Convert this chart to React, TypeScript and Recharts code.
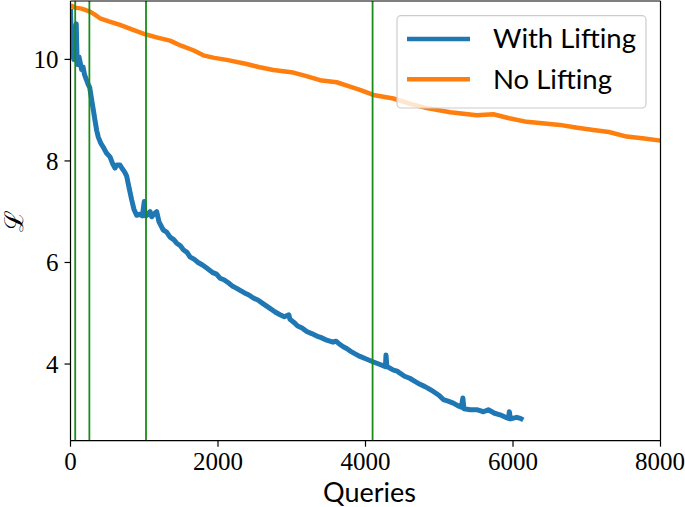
import React from 'react';
import { LineChart, Line, XAxis, YAxis, ReferenceLine } from 'recharts';

const blueQueries = [0, 5, 10, 20, 30, 45, 60, 70, 78, 84, 90, 100, 115, 130, 150, 170, 190, 215, 242, 260, 287, 310, 332, 355, 377, 410, 445, 490, 536, 570, 603, 630, 671, 700, 735, 762, 790, 830, 860, 897, 940, 975, 1000, 1010, 1040, 1080, 1101, 1130, 1169, 1200, 1258, 1304, 1350, 1400, 1440, 1490, 1530, 1580, 1620, 1680, 1730, 1790, 1847, 1930, 1980, 2027, 2080, 2140, 2200, 2254, 2300, 2360, 2420, 2479, 2540, 2600, 2650, 2700, 2770, 2841, 2900, 2960, 2976, 3030, 3080, 3140, 3203, 3270, 3340, 3400, 3474, 3560, 3600, 3640, 3699, 3750, 3800, 3860, 3925, 4010, 4092, 4180, 4270, 4278, 4290, 4380, 4430, 4468, 4530, 4600, 4670, 4739, 4800, 4850, 4919, 5000, 5055, 5120, 5191, 5250, 5300, 5320, 5335, 5420, 5508, 5600, 5665, 5750, 5824, 5900, 5940, 5950, 5965, 6050, 6100, 6140];
const blueLoss = [11.0, 10.7, 10.3, 10.05, 10.1, 10.0, 10.05, 10.65, 10.7, 10.3, 9.95, 9.9, 10.05, 9.95, 9.8, 9.85, 9.7, 9.6, 9.5, 9.45, 9.2, 9.0, 8.8, 8.6, 8.47, 8.35, 8.27, 8.15, 8.08, 7.95, 7.86, 7.92, 7.92, 7.85, 7.78, 7.7, 7.5, 7.23, 7.05, 6.93, 6.95, 6.92, 7.2, 6.92, 6.93, 7.0, 6.9, 6.95, 7.0, 6.8, 6.64, 6.6, 6.5, 6.45, 6.38, 6.33, 6.25, 6.2, 6.11, 6.06, 6.0, 5.95, 5.89, 5.8, 5.77, 5.69, 5.66, 5.6, 5.53, 5.49, 5.45, 5.4, 5.36, 5.3, 5.26, 5.2, 5.15, 5.1, 5.03, 4.97, 4.93, 4.97, 4.88, 4.82, 4.75, 4.71, 4.64, 4.6, 4.55, 4.52, 4.47, 4.43, 4.45, 4.4, 4.34, 4.3, 4.25, 4.2, 4.15, 4.1, 4.05, 4.0, 3.95, 4.18, 3.95, 3.88, 3.86, 3.82, 3.76, 3.72, 3.66, 3.6, 3.56, 3.52, 3.46, 3.38, 3.3, 3.27, 3.23, 3.18, 3.15, 3.33, 3.12, 3.1, 3.1, 3.06, 3.1, 3.03, 3.0, 2.95, 2.93, 3.06, 2.92, 2.95, 2.93, 2.9];

const orangeQueries = [0, 20, 64, 150, 264, 330, 400, 520, 671, 850, 1024, 1180, 1349, 1500, 1665, 1801, 1950, 2118, 2389, 2550, 2750, 3021, 3200, 3383, 3609, 3780, 3925, 4106, 4377, 4600, 4830, 5150, 5508, 5733, 5950, 6186, 6637, 6850, 7089, 7300, 7542, 7780, 8000];
const orangeLoss = [11.07, 11.05, 11.02, 11.0, 10.94, 10.88, 10.81, 10.75, 10.68, 10.58, 10.49, 10.43, 10.37, 10.27, 10.18, 10.08, 10.03, 9.99, 9.91, 9.85, 9.79, 9.74, 9.67, 9.59, 9.55, 9.47, 9.4, 9.3, 9.23, 9.13, 9.04, 8.96, 8.9, 8.92, 8.84, 8.77, 8.71, 8.66, 8.61, 8.57, 8.48, 8.44, 8.4];

const liftQueries = [64, 256, 1024, 4096];
const xTicks = [0, 2000, 4000, 6000, 8000];
const yTicks = [4, 6, 8, 10];
const seriesNames = ['With Lifting', 'No Lifting'];
const xLabel = 'Queries';
const yLabel = 'ℒ';

const blueData = blueQueries.map((q, i) => ({ q, loss: blueLoss[i] }));
const orangeData = orangeQueries.map((q, i) => ({ q, loss: orangeLoss[i] }));

const BLUE = '#1f77b4';
const ORANGE = '#ff7f0e';
const GREEN = '#1a8c1a';
const X_MAX = 8000;
const Y_MIN = 2.49;
const Y_MAX = 11.15;

const tickStyle = { fontFamily: 'Liberation Serif', fontSize: 25, fill: '#000' };

export default function App() {
  return (
    <div style={{ position: 'absolute', left: 0, top: 0, width: 685, height: 507, background: '#fff' }}>
      <LineChart width={685} height={507} margin={{ top: 1, right: 24.5, bottom: 0, left: 0 }}>
        <XAxis
          type="number"
          dataKey="q"
          domain={[0, X_MAX]}
          ticks={xTicks}
          allowDataOverflow
          height={66.3}
          tickSize={6}
          tickMargin={6}
          tick={tickStyle}
          stroke="#000"
          axisLine={{ stroke: '#000', strokeWidth: 1.2 }}
          tickLine={{ stroke: '#000', strokeWidth: 1.2 }}
        />
        <YAxis
          type="number"
          dataKey="loss"
          domain={[Y_MIN, Y_MAX]}
          ticks={yTicks}
          allowDataOverflow
          width={70.5}
          tickSize={6}
          tickMargin={6}
          tick={tickStyle}
          stroke="#000"
          axisLine={{ stroke: '#000', strokeWidth: 1.2 }}
          tickLine={{ stroke: '#000', strokeWidth: 1.2 }}
        />
        <Line
          data={blueData}
          dataKey="loss"
          type="linear"
          stroke={BLUE}
          strokeWidth={5}
          strokeLinejoin="round"
          dot={false}
          isAnimationActive={false}
          name={seriesNames[0]}
        />
        <Line
          data={orangeData}
          dataKey="loss"
          type="linear"
          stroke={ORANGE}
          strokeWidth={4.5}
          strokeLinejoin="round"
          dot={false}
          isAnimationActive={false}
          name={seriesNames[1]}
        />
        {liftQueries.map((q) => (
          <ReferenceLine key={q} x={q} stroke={GREEN} strokeWidth={1.8} />
        ))}
        <ReferenceLine y={Y_MAX} stroke="#000" strokeWidth={1.2} />
        <ReferenceLine x={X_MAX} stroke="#000" strokeWidth={1.2} />
      </LineChart>
      <svg width={685} height={507} style={{ position: 'absolute', left: 0, top: 0, pointerEvents: 'none' }}>
        <text x={369.5} y={502} textAnchor="middle" fontFamily="Lato" fontSize={27} fill="#000">{xLabel}</text>
        <text
          x={14}
          y={221}
          textAnchor="middle"
          dominantBaseline="central"
          fontFamily="DejaVu Serif"
          fontSize={26}
          fill="#000"
          transform="rotate(-90, 14, 221)"
        >
          {yLabel}
        </text>
        <rect x={397} y={15.7} width={249} height={92.3} rx={4} fill="#fff" fillOpacity={0.8} stroke="#cccccc" strokeWidth={1.2} />
        <line x1={407} x2={470} y1={39} y2={39} stroke={BLUE} strokeWidth={4.5} />
        <line x1={407} x2={470} y1={79.3} y2={79.3} stroke={ORANGE} strokeWidth={4.5} />
        <text x={493} y={48.3} fontFamily="Lato" fontSize={27.5} fill="#000">{seriesNames[0]}</text>
        <text x={493} y={89.3} fontFamily="Lato" fontSize={27.5} fill="#000">{seriesNames[1]}</text>
      </svg>
    </div>
  );
}
